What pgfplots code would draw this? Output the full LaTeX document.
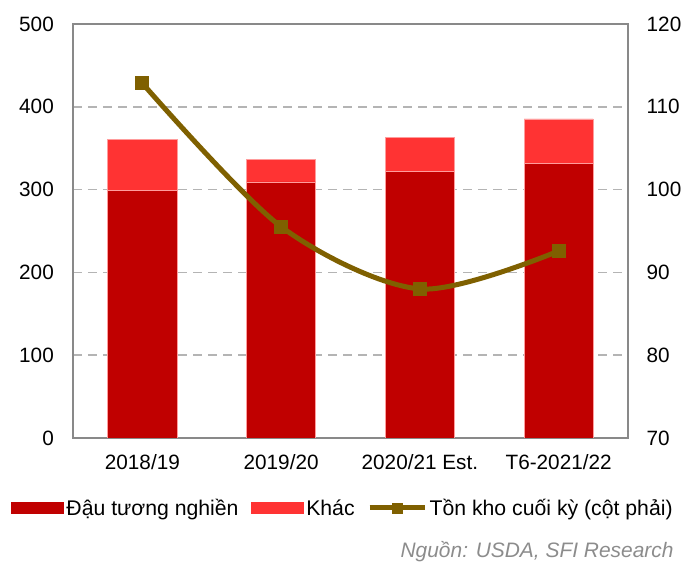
\documentclass[border=0pt]{standalone}
\usepackage{pgfplots}
\pgfplotsset{compat=1.18}
\usepackage{fontspec}
\setmainfont{Liberation Sans}
\definecolor{darkred}{HTML}{C00000}
\definecolor{brightred}{HTML}{FF3333}
\definecolor{olivebrown}{HTML}{7F6000}
\definecolor{framegray}{HTML}{898989}
\definecolor{gridgray}{HTML}{B4B4B4}
\definecolor{barborder}{HTML}{FF9C9C}
\newcommand{\fs}{\fontsize{20.8}{24}\selectfont}
\newcommand{\lfs}{\fontsize{21.3}{25}\selectfont}
\begin{document}
\begin{tikzpicture}[x=1bp,y=1bp]
\useasboundingbox (-73,-124) rectangle (612,438);
\begin{axis}[
  at={(0,0)}, anchor=south west,
  scale only axis, width=555bp, height=414bp,
  xmin=-0.5, xmax=3.5, ymin=0, ymax=500,
  ytick={0,100,...,500},
  xtick={0,1,2,3},
  xticklabels={2018/19,2019/20,2020/21 Est.,T6-2021/22},
  major tick length=0pt,
  ytick pos=left, xtick pos=bottom,
  axis line style={framegray, line width=1.5bp},
  ymajorgrids, grid style={gridgray, dashed, dash pattern=on 9bp off 6bp, line width=1.5bp},
  /pgf/number format/assume math mode=true,
  tick label style={font=\fs, text=black},
  yticklabel style={inner sep=0pt, xshift=-19bp},
  xticklabel style={anchor=base, inner sep=0pt, yshift=-32bp},
  ybar stacked, bar width=69bp,
  legend columns=3,
  legend style={at={(axis description cs:-0.1117,-0.169)}, anchor=west,
    draw=none, fill=none, font=\lfs, inner sep=0pt,
    nodes={inner sep=2.5bp},
    /tikz/every even column/.append style={column sep=10bp}},
]
\addplot[fill=darkred, draw=barborder, line width=0.75bp,
  legend image code/.code={\fill[darkred] (0bp,-5.5bp) rectangle (52bp,5.5bp);}]
  coordinates {(0,298.7) (1,309.2) (2,322) (3,331.8)};
\addlegendentry{Đậu tương nghiền}
\addplot[fill=brightred, draw=barborder, line width=0.75bp,
  legend image code/.code={\fill[brightred] (0bp,-5.5bp) rectangle (52bp,5.5bp);}]
  coordinates {(0,62) (1,27.4) (2,41.5) (3,53.5)};
\addlegendentry{Khác}
\addlegendimage{legend image code/.code={
  \draw[olivebrown, line width=5bp] (0bp,0bp) -- (55bp,0bp);
  \fill[olivebrown] (22.5bp,-5bp) rectangle (32.5bp,5bp);}}
\addlegendentry{Tồn kho cuối kỳ (cột phải)}
\end{axis}
\begin{axis}[
  at={(0,0)}, anchor=south west,
  scale only axis, width=555bp, height=414bp,
  xmin=-0.5, xmax=3.5, ymin=70, ymax=120,
  ytick={70,80,...,120},
  axis x line=none,
  axis y line*=right,
  major tick length=0pt,
  axis line style={framegray, line width=1.5bp},
  /pgf/number format/assume math mode=true,
  tick label style={font=\fs, text=black},
  yticklabel style={inner sep=0pt, xshift=18.5bp},
]
\addplot[olivebrown, line width=5bp, smooth, tension=0.5,
  mark=square*, mark size=6.5bp, mark options={fill=olivebrown, draw=olivebrown, line width=0pt}]
  coordinates {(0,112.84) (1,95.52) (2,88.0) (3,92.58)};
\end{axis}
\node[anchor=base east, font=\fontsize{21}{25}\selectfont\itshape, text={rgb,255:red,140;green,140;blue,140}] at (604,-120) {Nguồn: USDA, SFI Research};
\end{tikzpicture}
\end{document}
